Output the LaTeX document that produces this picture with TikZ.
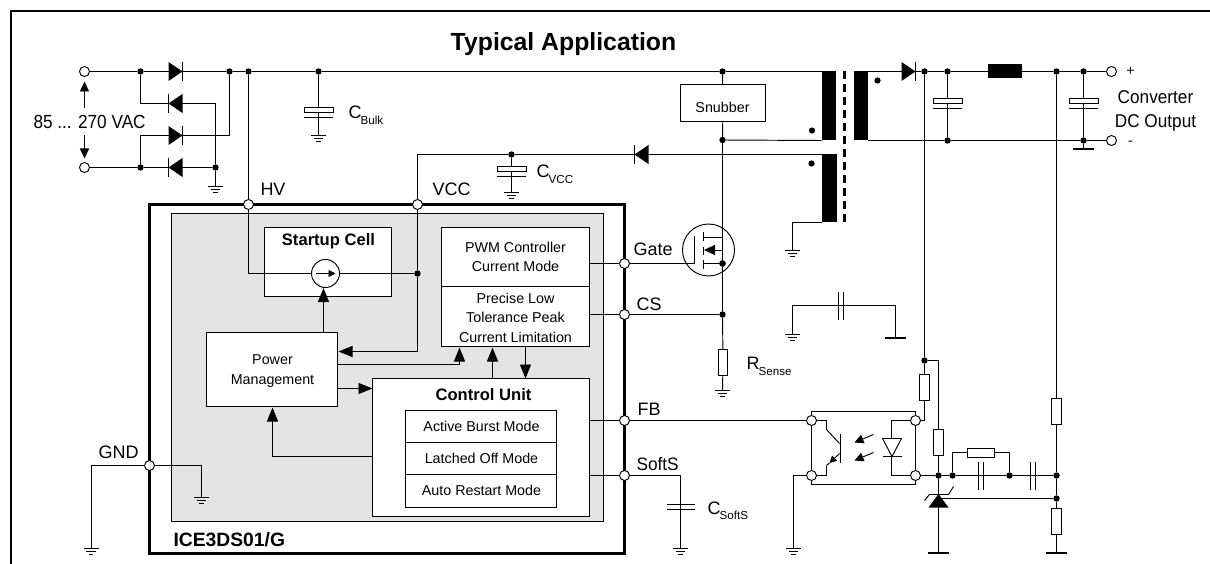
\documentclass[tikz,border=0pt]{standalone}
\usepackage{fontspec}
\setmainfont{Liberation Sans}
\usetikzlibrary{arrows.meta,fit}
\newcommand{\fs}[1]{\fontsize{#1}{#1}\selectfont}
\newcommand{\Csub}[2]{{\fs{18}#1\kern-0.8pt\raisebox{-5.5pt}{\fs{11.6}#2}}}
\tikzset{
  x=1pt,y=-1pt,
  wire/.style={line width=0.95pt,black,line cap=butt},
  boxn/.style={draw=black,line width=0.95pt,fill=white,inner sep=0pt,outer sep=0pt},
  jn/.style={circle,fill=black,draw=none,minimum size=6.4pt,inner sep=0pt,outer sep=0pt},
  pinn/.style={circle,fill=white,draw=black,line width=0.95pt,minimum size=10pt,inner sep=0pt,outer sep=0pt},
  rv/.style={rectangle,draw=black,line width=0.95pt,fill=white,minimum width=9.5pt,minimum height=26pt,inner sep=0pt,outer sep=0pt},
  rh/.style={rectangle,draw=black,line width=0.95pt,fill=white,minimum width=27pt,minimum height=9pt,inner sep=0pt,outer sep=0pt},
  blk/.style={rectangle,fill=black,draw=none,inner sep=0pt,outer sep=0pt},
  lab/.style={inner sep=0pt,outer sep=0pt,anchor=base west,font=\fs{18}},
  txt/.style={inner sep=0pt,outer sep=0pt,anchor=base,font=\fs{14.3}},
  btxt/.style={inner sep=0pt,outer sep=0pt,anchor=base,font=\fs{16.6}\bfseries},
  bigarrow/.style={wire,-{Triangle[length=14pt,width=11pt]}},
  smallarrow/.style={wire,-{Triangle[length=10pt,width=9pt]}},
  tinyarrow/.style={wire,-{Triangle[length=7pt,width=7pt]}},
  gnd/.pic={\draw[line width=0.9pt] (-7.5,0)--(7.5,0) (-4.8,2.8)--(4.8,2.8) (-2.2,5.6)--(2.2,5.6);},
  gndbar/.pic={\draw[line width=2pt] (-10.5,0)--(10.5,0);},
  diode/.pic={\fill[black] (-7,-9.5)--(-7,9.5)--(7,0)--cycle; \draw[line width=0.9pt] (7.3,-9.5)--(7.3,9.5);},
  pcap/.pic={\draw[line width=0.95pt,fill=white] (-14.5,-2.5) rectangle (14.5,2.5); \draw[line width=0.95pt] (-14.5,7.5)--(14.5,7.5);},
  ncapv/.pic={\draw[line width=0.95pt] (-14,-2.3)--(14,-2.3) (-14,2.3)--(14,2.3);},
  ncaph/.pic={\draw[line width=0.95pt] (-2.3,-14)--(-2.3,14) (2.3,-14)--(2.3,14);},
}
\begin{document}
\begin{tikzpicture}
\useasboundingbox (0,0) rectangle (1210,564);
% outer frame
\draw[line width=2pt] (1210,11) -- (11,11) -- (11,564);
\begin{scope}[shift={(0.5,0.5)}]
\node[btxt,font=\fs{24.8}\bfseries] (title) at (563,50) {Typical Application};
% IC outline and inner area
\draw[line width=2.8pt] (149,204) rectangle (624,553);
\node[boxn,fill=black!10.5,fit={(171,213)(603,521)}] (inner) {};
\node[boxn,fit={(264,227)(391,296)}] (startup) {};
\node[boxn,fit={(206,332)(337,406)}] (pm) {};
\node[boxn,fit={(441,227)(589,286)}] (pwm) {};
\node[boxn,fit={(441,286)(589,346)}] (peak) {};
\node[boxn,fit={(372,378)(589,516)}] (cu) {};
\node[boxn,fit={(405,410)(556,442)}] (burst) {};
\node[boxn,fit={(405,442)(556,474)}] (latch) {};
\node[boxn,fit={(405,474)(556,507)}] (auto) {};
\node[boxn,fit={(680,84)(765,121)}] (snub) {};
\node[circle,draw=black,fill=white,line width=0.95pt,minimum size=28pt,inner sep=0pt,outer sep=0pt] (src) at (325,273) {};
% pins and terminals
\node[pinn] (ac1) at (84,71) {};
\node[pinn] (ac2) at (84,167) {};
\node[pinn] (phv) at (248,204) {};
\node[pinn] (pvcc) at (417,204) {};
\node[pinn] (pgate) at (624,263) {};
\node[pinn] (pcs) at (624,314) {};
\node[pinn] (pfb) at (624,420) {};
\node[pinn] (psoft) at (624,475) {};
\node[pinn] (pgnd) at (149,465) {};
\node[pinn] (oplus) at (1111,71) {};
\node[pinn] (ominus) at (1111,140) {};
\node[pinn] (o1) at (811,420) {};
\node[pinn] (o2) at (915,420) {};
\node[pinn] (o3) at (811,475) {};
\node[pinn] (o4) at (915,475) {};
% junctions
\foreach \n/\x/\y in {j1/140/71,j2/229/71,j3/248/71,j4/318/71,j5/722/71,j6/140/167,j7/215/167,
  j8/722/139.5,j9/511/154,j10/417/273,j11/722/263,j12/722/314,j13/924/71,j14/947/71,j15/1056/71,
  j16/1083/71,j17/947/140,j18/1083/140,j19/924/360,j20/938/475,j21/952/475,j22/1009/475,j23/1056/475,j24/1056/498}
  {\node[jn] (\n) at (\x,\y) {};}
% windings and inductor
\node[blk,fit={(821,71)(835.5,140)}] (wp) {};
\node[blk,fit={(821,154)(836,222)}] (wa) {};
\node[blk,fit={(853,71)(867,140)}] (ws) {};
\node[blk,fit={(987,64)(1021,78)}] (ind) {};
% resistors
\node[rv] (rsense) at (722.5,362) {};
\node[rv] (r1) at (924,387) {};
\node[rv] (r2) at (938,442) {};
\node[rv] (r3) at (1056,410.5) {};
\node[rv] (r4) at (1056,521) {};
\node[rh] (r5) at (980.5,452) {};
% named free points
\coordinate (g1) at (215,186);
\coordinate (g2) at (318,135);
\coordinate (g3) at (511,192);
\coordinate (g4) at (792,250);
\coordinate (g5) at (722,390);
\coordinate (g6) at (201,497);
\coordinate (g7) at (90.5,548);
\coordinate (g8) at (680,548);
\coordinate (g9) at (793,548);
\coordinate (g10) at (792,334);
\coordinate (g11) at (895,337);
\coordinate (g12) at (1083,149);
\coordinate (g13) at (938,552);
\coordinate (g14) at (1056,552);
\coordinate (ztip) at (938,494);
\coordinate (msd) at (722,236.5);
\coordinate (msb) at (694,263);
\coordinate (csplit) at (459,364);
% rectifier
\draw[wire] (ac1) -- (j1) -- (j2) -- (j3) -- (j4) -- (j5) -- (wp.north west);
\draw[wire] (ac2) -- (j6) -- (j7);
\draw[wire] (j1) |- (215,103) -- (j7);
\draw[wire] (j2) |- (140,135) -- (j6);
\draw[wire] (j7) -- (g1);
\draw[wire] (j4) -- (g2);
\path (ac1) ++(0,37) coordinate (va1) (ac2) ++(0,-32) coordinate (va2);
\draw[smallarrow] (va1) -- (84,81);
\draw[smallarrow] (va2) -- (84,158);
% mains side
\draw[wire] (j5) -- (snub);
\draw[wire] (snub) -- (j8) -- (j11) -- (j12) -- (rsense) -- (g5);
\draw[wire] (j8) -- (wp.south west);
\draw[wire] (wa.north west) -- (j9) -- (417,154) -- (pvcc);
\draw[wire] (j9) -- (g3);
\draw[wire] (wa.south west) -| (g4);
% inside IC
\draw[wire] (j3) -- (phv) -- (248,273) -- (src);
\draw[wire] (src) -- (j10);
\draw[wire] (pvcc) -- (j10);
\draw[bigarrow] (j10) |- (338,351);
\draw[bigarrow] (323,332) -- (323,287.5);
\draw[wire] (pm.east |- csplit) -- (csplit);
\draw[bigarrow] (csplit) -- (459,347);
\draw[bigarrow] (492,378) -- (492,347);
\draw[bigarrow] (525,346) -- (525,378);
\draw[bigarrow] (337,388) -- (372,388);
\draw[bigarrow] (372,456) -| (272,407);
\draw[tinyarrow] (315,273) -- (335,273);
% pin wires
\draw[wire] (pwm.east |- pgate) -- (pgate) -- (msb);
\draw[wire] (peak.east |- pcs) -- (pcs) -- (j12);
\draw[wire] (cu.east |- pfb) -- (pfb) -- (o1);
\draw[wire] (cu.east |- psoft) -- (psoft) -- (680,475) -- (g8);
\draw[wire] (pgnd) -- (90.5,465) -- (g7);
\draw[wire] (pgnd) -- (201,465) -- (g6);
% MOSFET
\node[circle,draw=black,line width=0.95pt,minimum size=52pt,inner sep=0pt,outer sep=0pt] (fet) at (708,249.5) {};
\draw[line width=1.2pt] (694,236) -- (msb);
\draw[line width=1.6pt] (703,232)--(703,241) (703,246)--(703,254) (703,259.5)--(703,268);
\draw[wire] (703,236.5) -- (msd);
\draw[wire] (703,263) -- (j11);
\draw[wire] (j11) -- (722,249.5);
\draw[wire,-{Triangle[length=11pt,width=10pt]}] (722,249.5) -- (703.5,249.5);
\node[jn] at (j11) {};
% secondary
\draw[wire] (ws.north east) -- (j13) -- (j14) -- (ind) -- (j15) -- (j16) -- (oplus);
\draw[wire] (ws.south east) -- (j17) -- (j18) -- (ominus);
\draw[wire] (j14) -- (j17);
\draw[wire] (j16) -- (j18) -- (g12);
\draw[line width=3pt,dash pattern=on 8.5pt off 4.5pt] (844,70.5) -- (844,223);
\foreach \x/\y in {811.5/130,811/163,877/80} {\fill (\x,\y) circle (3.1);}
% feedback
\draw[wire] (j13) -- (j19) -- (r1) -- (924,420) -- (o2);
\draw[wire] (j19) -| (r2) -- (j20);
\draw[wire] (j15) -- (r3) -- (j23) -- (j24) -- (r4) -- (g14);
\draw[wire] (o4) -- (j20) -- (j21) -- (j22) -- (j23);
\draw[wire] (j21) |- (r5);
\draw[wire] (r5) -| (j22);
\draw[wire] (j20) -- (g13);
\draw[wire] (ztip) ++(0,4) -- (j24);
% zener
\fill[black] (938,493.5) -- (948,507) -- (928,507) -- cycle;
\draw[line width=0.95pt] (924,500) -- (929,494) -- (948,494) -- (953,486);
% optocoupler
\draw[wire] (o1) |- (915,411) -- (o2);
\draw[wire] (o1) -- (o3);
\draw[wire] (o2) -- (o4);
\draw[wire] (o3) |- (915,484) -- (o4);
\draw[wire] (o3) -| (g9);
\draw[wire] (o1) -- (826,420) -- (826,429) -- (839,443);
\draw[line width=1.5pt] (840,433) -- (840,462);
\draw[wire] (826,475) -- (o3);
\draw[wire] (826,475) -- (826,465);
\draw[wire,-{Triangle[length=7pt,width=7pt]}] (839,453) -- (829,462.5);
\draw[wire] (829,462.5) -- (826,465);
\draw[wire,-{Triangle[length=9pt,width=9pt]}] (873,434) -- (854,442);
\draw[wire,-{Triangle[length=9pt,width=9pt]}] (873,452) -- (854,460);
\draw[wire] (o2) -- (891,420) -- (891,475) -- (o4);
\draw[line width=0.95pt,fill=white] (882,438) -- (901,438) -- (891.5,456) -- cycle;
\draw[line width=0.95pt] (882,456.3) -- (901,456.3);
% floating capacitor
\draw[wire] (g10) |- (840.5,305);
\draw[wire] (840.5,305) -| (g11);
% components on wires
\foreach \n/\x/\y/\r in {d1/175/71/0,d2/175/103/180,d3/175/135/0,d4/175/167/180,d5/641/154/180,d6/908/71/0}
  {\pic[rotate=\r] (\n) at (\x,\y) {diode};}
\foreach \n/\x/\y in {c1/318/109.5,c2/511/168.5,c3/947/100.5,c4/1083/100.5}
  {\pic (\n) at (\x,\y) {pcap};}
\pic (c5) at (680,506.5) {ncapv};
\pic (c6) at (840.5,305) {ncaph};
\pic (c7) at (980.5,475) {ncaph};
\pic (c8) at (1032.5,475) {ncaph};
\foreach \n in {g1,g2,g3,g4,g5,g6,g7,g8,g9,g10} {\pic at (\n) {gnd};}
\foreach \n in {g11,g12,g13,g14} {\pic at (\n) {gndbar};}
% labels
\node[lab,font=\fs{19}] (lvac) at (33,128.5) {\scalebox{0.905}[1]{85 ... 270 VAC}};
\node[lab] (lhv) at (260,195.5) {HV};
\node[lab] (lvcc) at (432,195.5) {VCC};
\node[lab] (lgate) at (633,255) {Gate};
\node[lab] (lcs) at (636,310) {CS};
\node[lab] (lfb) at (637,415) {FB};
\node[lab] (lsoft) at (636,470) {\scalebox{0.96}[1]{SoftS}};
\node[lab] (lgnd) at (98,458) {GND};
\node[lab,font=\fs{19.3}\bfseries] (lic) at (173,546) {ICE3DS01/G};
\node[lab] (lcb) at (348,118.5) {\Csub{C}{Bulk}};
\node[lab] (lcv) at (536,177.5) {\Csub{C}{VCC}};
\node[lab] (lcs2) at (707,513.5) {\Csub{C}{SoftS}};
\node[lab] (lrs) at (746,369) {\Csub{R}{Sense}};
\node[txt] (tsn) at (722,112) {Snubber};
\node[txt] (tpw1) at (515,252) {PWM Controller};
\node[txt] (tpw2) at (515,271) {Current Mode};
\node[txt] (tpk1) at (515,303) {Precise Low};
\node[txt] (tpk2) at (515,322) {Tolerance Peak};
\node[txt] (tpk3) at (515,342) {Current Limitation};
\node[txt] (tpm1) at (272,364) {Power};
\node[txt] (tpm2) at (272,384) {Management};
\node[btxt] (tsu) at (328,245) {Startup Cell};
\node[btxt] (tcu) at (483,400) {Control Unit};
\node[txt] (tb) at (481,431) {Active Burst Mode};
\node[txt] (tl) at (481,463) {Latched Off Mode};
\node[txt] (ta) at (481,495) {Auto Restart Mode};
\node[txt,font=\fs{18.5}] (tc1) at (1155,103) {\scalebox{0.93}[1]{Converter}};
\node[txt,font=\fs{18.5}] (tc2) at (1155,127) {\scalebox{0.93}[1]{DC Output}};
\node[txt] (tplus) at (1130,75) {+};
\node[txt] (tminus) at (1130,145) {-};
\end{scope}
\end{tikzpicture}
\end{document}
